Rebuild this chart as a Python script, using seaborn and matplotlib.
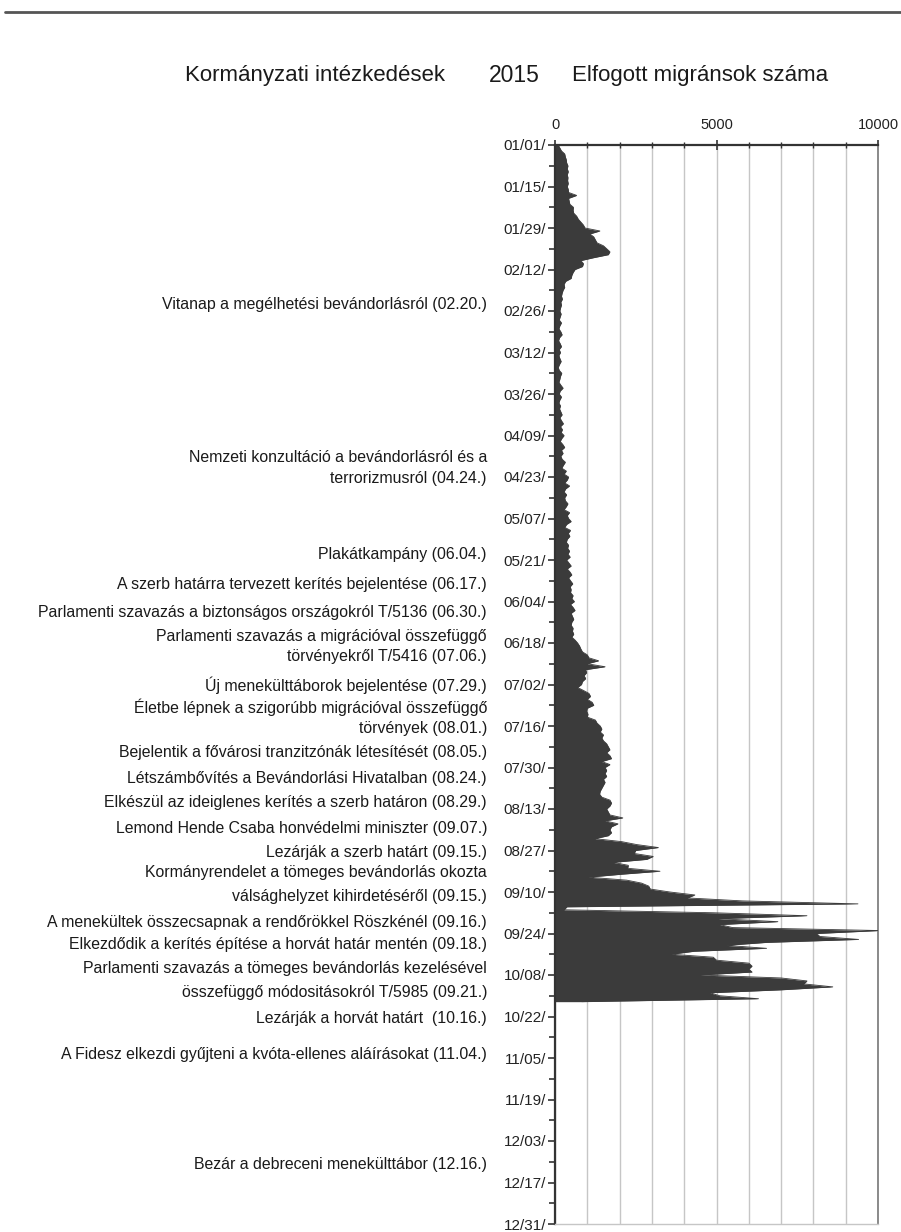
import numpy as np
import pandas as pd
from matplotlib import pyplot as plt
from matplotlib.lines import Line2D
from matplotlib.ticker import MultipleLocator, FixedLocator
import seaborn as sns

# napi elfogott migránsok, 2015-01-01 .. 2015-10-17
jan = [100, 150, 200, 300, 320, 350, 360, 400, 380, 410, 380, 400, 390, 410, 380,
       410, 420, 670, 420, 440, 460, 570, 560, 580, 670, 720, 800, 880, 930, 1390, 1080]
feb = [1200, 1250, 1300, 1500, 1600, 1700, 1650, 1200, 800, 880, 850, 620, 560, 520,
       500, 330, 280, 300, 250, 220, 200, 230, 180, 200, 170, 150, 190, 160]
mar = [130, 200, 150, 120, 180, 220, 140, 110, 160, 200, 130, 170, 120, 150, 190, 140,
       100, 130, 210, 170, 150, 120, 180, 250, 160, 130, 200, 150, 120, 170, 140]
apr = [180, 220, 150, 200, 260, 170, 230, 190, 280, 210, 160, 240, 300, 200, 250,
       180, 220, 320, 260, 210, 350, 280, 420, 380, 300, 450, 330, 280, 360, 300]
may = [320, 400, 350, 280, 450, 380, 420, 500, 360, 300, 480, 410, 460, 380, 350, 420,
       390, 450, 400, 470, 360, 430, 500, 380, 460, 520, 420, 480, 550, 470, 500]
jun = [480, 560, 520, 600, 480, 560, 620, 500, 540, 580, 520, 500, 560, 540, 580,
       520, 620, 700, 760, 800, 850, 1000, 1050, 1350, 1000, 1550, 950, 980, 900, 950]
jul = [850, 820, 700, 880, 1050, 1100, 1000, 1150, 1200, 1000, 980, 1020, 1000, 1250, 1300,
       1400, 1450, 1400, 1500, 1450, 1500, 1600, 1650, 1700, 1600, 1700, 1750, 1450, 1700,
       1550, 1600]
aug = [1550, 1600, 1500, 1550, 1500, 1450, 1400, 1380, 1450, 1700, 1750, 1700, 1600, 1650,
       1700, 2100, 1550, 1950, 1750, 1700, 1750, 1650, 1240, 2060, 2530, 3200, 2500, 2450,
       3040, 2840, 1800]
sep = [2270, 2250, 3250, 2060, 1030, 2220, 2680, 2900, 2950, 3560, 4330, 4100, 5800, 9380,
       370, 280, 4900, 7800, 5050, 6900, 5100, 5500, 10050, 8100, 8200, 9400, 6550, 5300,
       6550, 4300]
octo = [3600, 4900, 5000, 6000, 6100, 6000, 6100, 4500, 7000, 7800, 7700, 8600, 7000, 4800,
        5100, 6300, 830]

date_labels = ['01/01/', '01/15/', '01/29/', '02/12/', '02/26/', '03/12/', '03/26/',
               '04/09/', '04/23/', '05/07/', '05/21/', '06/04/', '06/18/', '07/02/',
               '07/16/', '07/30/', '08/13/', '08/27/', '09/10/', '09/24/', '10/08/',
               '10/22/', '11/05/', '11/19/', '12/03/', '12/17/', '12/31/']

events = ['Vitanap a megélhetési bevándorlásról (02.20.)',
          'Nemzeti konzultáció a bevándorlásról és a',
          'terrorizmusról (04.24.)',
          'Plakátkampány (06.04.)',
          'A szerb határra tervezett kerítés bejelentése (06.17.)',
          'Parlamenti szavazás a biztonságos országokról T/5136 (06.30.)',
          'Parlamenti szavazás a migrációval összefüggő',
          'törvényekről T/5416 (07.06.)',
          'Új menekülttáborok bejelentése (07.29.)',
          'Életbe lépnek a szigorúbb migrációval összefüggő',
          'törvények (08.01.)',
          'Bejelentik a fővárosi tranzitzónák létesítését (08.05.)',
          'Létszámbővítés a Bevándorlási Hivatalban (08.24.)',
          'Elkészül az ideiglenes kerítés a szerb határon (08.29.)',
          'Lemond Hende Csaba honvédelmi miniszter (09.07.)',
          'Lezárják a szerb határt (09.15.)',
          'Kormányrendelet a tömeges bevándorlás okozta',
          'válsághelyzet kihirdetéséről (09.15.)',
          'A menekültek összecsapnak a rendőrökkel Röszkénél (09.16.)',
          'Elkezdődik a kerítés építése a horvát határ mentén (09.18.)',
          'Parlamenti szavazás a tömeges bevándorlás kezelésével',
          'összefüggő módositásokról T/5985 (09.21.)',
          'Lezárják a horvát határt  (10.16.)',
          'A Fidesz elkezdi gyűjteni a kvóta-ellenes aláírásokat (11.04.)',
          'Bezár a debreceni menekülttábor (12.16.)']
# sorok függőleges helye pixelben (layout)
event_rows = [305, 457, 478, 554, 585, 613, 636, 657, 685, 707, 728, 753, 778, 802,
              828, 852, 873, 897, 922, 945, 968, 992, 1018, 1054, 1164]

counts = jan + feb + mar + apr + may + jun + jul + aug + sep + octo
df = pd.DataFrame({'day': np.arange(len(counts)), 'count': counts})

sns.set_style('white')
plt.rcParams['font.family'] = ['Liberation Sans', 'DejaVu Sans']

W, H = 901, 1232
fig = plt.figure(figsize=(W / 100, H / 100), dpi=100)
ax = fig.add_axes([555 / W, 1 - 1224 / H, (878 - 555) / W, (1224 - 145) / H])

bar_col = '#3b3b3b'
ax.fill_betweenx(df['day'], 0, df['count'], color=bar_col, lw=0, zorder=2)
sns.lineplot(data=df, x='count', y='day', orient='y', color=bar_col, lw=0.6,
             ax=ax, zorder=3, estimator=None)

ax.set_xlim(0, 10000)
ax.set_ylim(364, 0)
ax.set_xlabel('')
ax.set_ylabel('')

ax.xaxis.tick_top()
ax.xaxis.set_major_locator(FixedLocator([0, 5000, 10000]))
ax.xaxis.set_minor_locator(MultipleLocator(1000))
ax.tick_params(axis='x', which='major', direction='inout', length=7, width=1.2,
               color='#333333', labelsize=10.5, pad=6, labelcolor='#222222')
ax.tick_params(axis='x', which='minor', direction='inout', length=5, width=1,
               color='#333333')

ax.set_yticks(np.arange(0, 365, 14))
ax.set_yticklabels(date_labels)
ax.yaxis.set_minor_locator(FixedLocator(np.arange(7, 365, 14)))
ax.tick_params(axis='y', which='major', direction='out', length=5, width=1.2,
               color='#333333', labelsize=11, pad=1.5, labelcolor='#222222', left=True)
ax.tick_params(axis='y', which='minor', direction='out', length=4, width=1.2,
               color='#333333', left=True)

ax.grid(axis='x', which='both', color='#c6c6c6', lw=1)
ax.set_axisbelow(True)

for side in ['top', 'left']:
    ax.spines[side].set_color('#333333')
    ax.spines[side].set_linewidth(1.6)
ax.spines['right'].set_color('#8a8a8a')
ax.spines['right'].set_linewidth(1.4)
ax.spines['bottom'].set_color('#c6c6c6')
ax.spines['bottom'].set_linewidth(1)

# fejlécek
fig.text(315 / W, 1 - 75 / H, 'Kormányzati intézkedések', ha='center', va='center',
         fontsize=16, color='#1a1a1a')
fig.text(514 / W, 1 - 75 / H, '2015', ha='center', va='center', fontsize=16.5,
         color='#1a1a1a')
fig.text(700 / W, 1 - 75 / H, 'Elfogott migránsok száma', ha='center', va='center',
         fontsize=16, color='#1a1a1a')

for txt, row in zip(events, event_rows):
    fig.text(487 / W, 1 - row / H, txt, ha='right', va='center', fontsize=11.4,
             color='#1a1a1a')

fig.add_artist(Line2D([5 / W, 1], [1 - 12 / H, 1 - 12 / H], color='#555555', lw=2))

fig.savefig('out.png', dpi=100)
